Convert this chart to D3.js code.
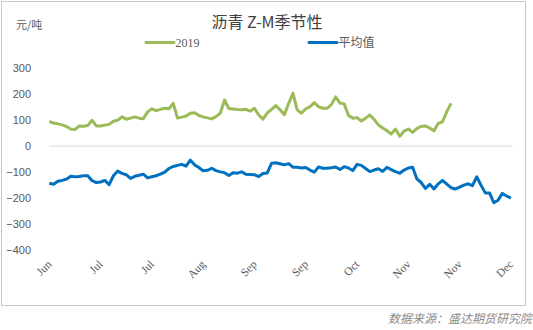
<!DOCTYPE html>
<html>
<head>
<meta charset="utf-8">
<script src="https://cdn.jsdelivr.net/npm/d3@7"></script>
<style>
  html, body { margin: 0; padding: 0; background: #fff; }
  svg { display: block; }
</style>
</head>
<body>
<svg id="chart" width="533" height="330"></svg>
<script>
// Category tick labels (one every 12 trading days)
const tickLabels = ["Jun", "Jul", "Jul", "Aug", "Sep", "Sep", "Oct", "Nov", "Nov", "Dec"];
const tickStep = 12;

// 2019 spread, 元/吨
const series2019 = [
  95, 89, 86, 82, 76, 66, 64, 78, 77, 80,
  100, 78, 78, 81, 84, 96, 100, 113, 104, 108,
  113, 108, 106, 132, 144, 137, 142, 146, 144, 165,
  108, 112, 116, 127, 129, 118, 113, 109, 105, 114,
  127, 178, 145, 143, 141, 140, 142, 135, 146, 120,
  104, 128, 142, 156, 140, 121, 165, 204, 140, 127,
  144, 152, 168, 152, 146, 146, 160, 190, 166, 163,
  118, 108, 110, 97, 108, 120, 103, 82, 70, 60,
  47, 66, 38, 58, 66, 53, 68, 76, 78, 70,
  59, 88, 94, 133, 165
];

// Average spread over previous years, 元/吨
const seriesAvg = [
  -143, -147, -135, -132, -127, -116, -118, -117, -114, -114,
  -133, -140, -138, -132, -148, -114, -96, -105, -110, -124,
  -116, -112, -108, -122, -118, -114, -108, -100, -86, -78,
  -74, -70, -77, -54, -72, -82, -95, -93, -85, -94,
  -99, -102, -113, -102, -104, -99, -108, -109, -110, -117,
  -105, -103, -66, -64, -68, -72, -67, -81, -81, -84,
  -82, -92, -100, -80, -85, -85, -83, -80, -90, -79,
  -84, -94, -70, -74, -86, -98, -92, -87, -97, -82,
  -90, -98, -104, -92, -84, -81, -126, -140, -163, -147,
  -165, -145, -132, -146, -160, -165, -158, -150, -145, -152,
  -118, -150, -180, -180, -218, -208, -182, -192, -200
];

const yTicks = [300, 200, 100, 0, -100, -200, -300, -400];

const svg = d3.select("#chart");

// outer frame
svg.append("rect")
  .attr("x", 1.5).attr("y", 1.5)
  .attr("width", 524).attr("height", 304)
  .attr("fill", "#fff")
  .attr("stroke", "#c8c8c8").attr("stroke-width", 1);

const plot = { left: 49.3, right: 510.9, top: 68.3, bottom: 250 };

const nPoints = seriesAvg.length;
const x = d3.scaleLinear().domain([0, nPoints - 1]).range([plot.left, plot.right]);
const y = d3.scaleLinear().domain([-400, 300]).range([plot.bottom, plot.top]);

// y axis labels
const yAxis = d3.axisLeft(y)
  .tickValues(yTicks)
  .tickFormat(d3.format("d"))
  .tickSize(0)
  .tickPadding(0);
const gy = svg.append("g")
  .attr("transform", "translate(31,0)")
  .call(yAxis);
gy.select(".domain").remove();
gy.selectAll("text")
  .attr("fill", "#595959")
  .style("font-family", "'Liberation Sans', Arial, sans-serif")
  .style("font-size", "11px");

// zero line
svg.append("line")
  .attr("x1", plot.left).attr("x2", plot.right + 1.5)
  .attr("y1", y(0)).attr("y2", y(0))
  .attr("stroke", "#d9d9d9").attr("stroke-width", 1);

// x category labels, rotated
const tickIdx = tickLabels.map((_, i) => i * tickStep);
const xAxis = d3.axisBottom(x)
  .tickValues(tickIdx)
  .tickFormat((d, i) => tickLabels[i])
  .tickSize(0);
const gx = svg.append("g").call(xAxis);
gx.select(".domain").remove();
gx.selectAll(".tick").attr("transform", d => `translate(${x(d) + 3},265)`);
gx.selectAll("text")
  .attr("x", 0).attr("y", 0).attr("dy", "0")
  .attr("transform", "rotate(-45)")
  .attr("text-anchor", "end")
  .attr("fill", "#595959")
  .style("font-family", "'Liberation Serif', 'Times New Roman', serif")
  .style("font-size", "11.5px");

// lines
const line = d3.line()
  .x((d, i) => x(i))
  .y(d => y(d));

svg.append("path")
  .datum(seriesAvg)
  .attr("fill", "none")
  .attr("stroke", "#0070C0")
  .attr("stroke-width", 3)
  .attr("stroke-linejoin", "round")
  .attr("d", line);

svg.append("path")
  .datum(series2019)
  .attr("fill", "none")
  .attr("stroke", "#9BBB59")
  .attr("stroke-width", 3)
  .attr("stroke-linejoin", "round")
  .attr("d", line);

// title
svg.append("text")
  .attr("x", 267).attr("y", 28)
  .attr("text-anchor", "middle")
  .attr("fill", "#404040")
  .style("font-family", "'Noto Sans CJK SC', sans-serif")
  .style("font-size", "16px")
  .text("沥青 Z-M季节性");

// unit label
svg.append("text")
  .attr("x", 16).attr("y", 29)
  .attr("fill", "#595959")
  .style("font-family", "'Noto Sans CJK SC', sans-serif")
  .style("font-size", "11px")
  .text("元/吨");

// legend
const legend = [
  { name: "2019", color: "#9BBB59", x: 146, font: "'Liberation Serif', 'Times New Roman', serif" },
  { name: "平均值", color: "#0070C0", x: 309, font: "'Noto Sans CJK SC', sans-serif" }
];
const lg = svg.append("g");
legend.forEach(d => {
  lg.append("line")
    .attr("x1", d.x).attr("x2", d.x + 28)
    .attr("y1", 42.5).attr("y2", 42.5)
    .attr("stroke", d.color).attr("stroke-width", 3)
    .attr("stroke-linecap", "round");
  lg.append("text")
    .attr("x", d.x + 29.5).attr("y", 47)
    .attr("fill", "#595959")
    .style("font-family", d.font)
    .style("font-size", "12px")
    .text(d.name);
});

// source note
svg.append("text")
  .attr("x", 532).attr("y", 323)
  .attr("text-anchor", "end")
  .attr("fill", "#8c8c8c")
  .style("font-family", "'Noto Sans CJK SC', sans-serif")
  .style("font-style", "italic")
  .style("font-size", "12px")
  .text("数据来源：盛达期货研究院");
</script>
</body>
</html>
